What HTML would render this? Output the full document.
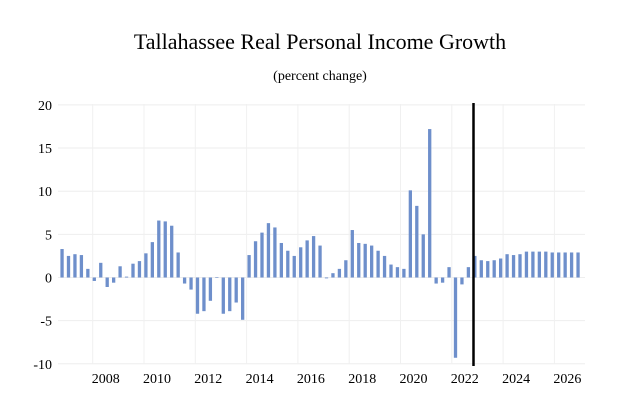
<!DOCTYPE html>
<html><head><meta charset="utf-8"><style>
body{margin:0;background:#fff;}
svg{display:block;font-family:"Liberation Serif",serif;}
</style></head><body>
<svg id="chart" width="627" height="415">
<text x="320" y="49" text-anchor="middle" font-size="22">Tallahassee Real Personal Income Growth</text>
<text x="320" y="80" text-anchor="middle" font-size="14">(percent change)</text>
<g id="grid"></g><g id="bars"></g><g id="axes"></g>
<line x1="473.5" y1="103" x2="473.5" y2="366" stroke="#000" stroke-width="2.5"/>
</svg>
<script>
const values=[3.3,2.5,2.7,2.6,1.0,-0.4,1.7,-1.1,-0.6,1.3,0.1,1.6,1.9,2.8,4.1,6.6,6.5,6.0,2.9,-0.7,-1.4,-4.2,-3.9,-2.7,0.05,-4.2,-3.9,-2.9,-4.9,2.6,4.2,5.2,6.3,5.8,4.0,3.1,2.5,3.5,4.3,4.8,3.7,-0.1,0.5,1.0,2.0,5.5,4.0,3.9,3.7,3.1,2.5,1.5,1.2,1.0,10.1,8.3,5.0,17.2,-0.7,-0.6,1.2,-9.3,-0.8,1.2,2.5,2.0,1.9,2.0,2.2,2.7,2.6,2.7,3.0,3.0,3.0,3.0,2.9,2.9,2.9,2.9,2.9];
const yTicks=[20,15,10,5,0,-5,-10];
const yearLabels=[2008,2010,2012,2014,2016,2018,2020,2022,2024,2026];
const NS="http://www.w3.org/2000/svg";
const y=v=>277.5-v*8.63;
const x=i=>62+i*6.45;
const yearX=yr=>92.7+(yr-2008)*25.65;
const grid=document.getElementById('grid'),bars=document.getElementById('bars'),axes=document.getElementById('axes');
function mk(tag,attrs,parent){const e=document.createElementNS(NS,tag);for(const k in attrs)e.setAttribute(k,attrs[k]);parent.appendChild(e);return e;}
yTicks.forEach(t=>{
  const l=mk('line',{x1:58,x2:585,y1:y(t),y2:y(t),stroke:'#eeeeee','stroke-width':1},grid);
  
  
  const tx=mk('text',{x:52,y:y(t)+5,'text-anchor':'end','font-size':14},axes);
  tx.textContent=t;
  
  
});
yearLabels.forEach(yr=>{
  const l=mk('line',{x1:yearX(yr),x2:yearX(yr),y1:104,y2:364,stroke:'#f0f0f0','stroke-width':1},grid);
  
  
  const tx=mk('text',{x:yearX(yr)+13,y:383,'text-anchor':'middle','font-size':14},axes);
  tx.textContent=yr;
  
  
});
values.forEach((v,i)=>{
  const top=Math.min(y(v),y(0)),h=Math.max(Math.abs(y(v)-y(0)),0.6);
  const r=mk('rect',{x:x(i)-1.6,y:top,width:3.3,height:h,fill:'#6e8fcb'},bars);
  
  
});
</script>
</body></html>
